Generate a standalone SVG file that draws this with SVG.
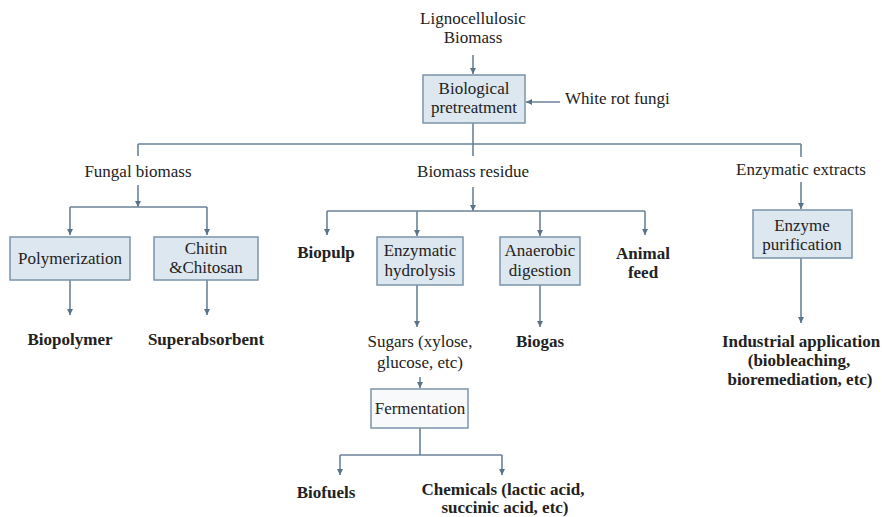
<svg xmlns="http://www.w3.org/2000/svg" width="882" height="517" viewBox="0 0 882 517">
<defs>
<marker id="ah" viewBox="0 0 6 6" refX="6" refY="3" markerWidth="6" markerHeight="6" markerUnits="userSpaceOnUse" orient="auto">
<path d="M0,0 L6,3 L0,6 Z" fill="#5b7389"/>
</marker>
<style>
text{font-family:'Liberation Serif','DejaVu Serif',serif}
.t{font-size:17px;fill:#222;text-anchor:middle}
.b{font-weight:bold}
.box{fill:#dde7ef;stroke:#7b94aa;stroke-width:1.5}
.wbox{fill:#f7f9fa;stroke:#7b94aa;stroke-width:1.5}
.ln{fill:none;stroke:#6b8399;stroke-width:1.6}
.ar{fill:none;stroke:#6b8399;stroke-width:1.6;marker-end:url(#ah)}
</style>
</defs>
<rect width="882" height="517" fill="#ffffff"/>
<g id="connectors">
<path class="ar" d="M473,55 V74"/>
<path class="ar" d="M560,102 H526"/>
<path class="ln" d="M473,123 V144 M138,144 H801 M138,144 V156 M473,144 V156 M801,144 V157"/>
<path class="ar" d="M138,185 V207"/>
<path class="ln" d="M70,207 H207"/>
<path class="ar" d="M70,207 V235"/>
<path class="ar" d="M207,207 V235"/>
<path class="ar" d="M70,280 V315"/>
<path class="ar" d="M207,280 V315"/>
<path class="ar" d="M473,187 V211"/>
<path class="ln" d="M327,211 H645"/>
<path class="ar" d="M327,211 V235"/>
<path class="ar" d="M417,211 V236"/>
<path class="ar" d="M540,211 V236"/>
<path class="ar" d="M645,211 V235"/>
<path class="ar" d="M417,285 V327"/>
<path class="ar" d="M540,285 V327"/>
<path class="ar" d="M420,377 V388"/>
<path class="ln" d="M420,428 V455 M340,455 H502"/>
<path class="ar" d="M340,455 V475"/>
<path class="ar" d="M502,455 V475"/>
<path class="ar" d="M801,182 V209"/>
<path class="ar" d="M801,258 V323"/>
</g>
<g font-family="Liberation Serif, DejaVu Serif, serif">
<g id="lignocellulosic-biomass">
<text class="t" x="473" y="24">Lignocellulosic</text>
<text class="t" x="473" y="43">Biomass</text>
</g>
<g id="biological-pretreatment">
<rect class="box" x="423" y="75" width="102" height="48"/>
<text class="t" x="474" y="94">Biological</text>
<text class="t" x="474" y="113">pretreatment</text>
</g>
<g id="white-rot-fungi">
<text class="t" x="565" y="104" style="text-anchor:start">White rot fungi</text>
</g>
<g id="fungal-biomass">
<text class="t" x="138" y="177">Fungal biomass</text>
</g>
<g id="biomass-residue">
<text class="t" x="473" y="177">Biomass residue</text>
</g>
<g id="enzymatic-extracts">
<text class="t" x="801" y="175">Enzymatic extracts</text>
</g>
<g id="polymerization">
<rect class="box" x="10" y="237" width="120" height="43"/>
<text class="t" x="70" y="264">Polymerization</text>
</g>
<g id="chitin-chitosan">
<rect class="box" x="154" y="237" width="104" height="43"/>
<text class="t" x="206" y="254">Chitin</text>
<text class="t" x="206" y="273">&amp;Chitosan</text>
</g>
<g id="biopolymer">
<text class="t b" x="70" y="345">Biopolymer</text>
</g>
<g id="superabsorbent">
<text class="t b" x="206" y="345">Superabsorbent</text>
</g>
<g id="biopulp">
<text class="t b" x="326" y="258">Biopulp</text>
</g>
<g id="enzymatic-hydrolysis">
<rect class="box" x="377" y="237" width="86" height="48"/>
<text class="t" x="420" y="256">Enzymatic</text>
<text class="t" x="420" y="276">hydrolysis</text>
</g>
<g id="anaerobic-digestion">
<rect class="box" x="500" y="237" width="80" height="48"/>
<text class="t" x="540" y="256">Anaerobic</text>
<text class="t" x="540" y="276">digestion</text>
</g>
<g id="animal-feed">
<text class="t b" x="643" y="259">Animal</text>
<text class="t b" x="643" y="278">feed</text>
</g>
<g id="enzyme-purification">
<rect class="box" x="753" y="210" width="99" height="48"/>
<text class="t" x="802" y="231">Enzyme</text>
<text class="t" x="802" y="250">purification</text>
</g>
<g id="sugars">
<text class="t" x="420" y="347">Sugars (xylose,</text>
<text class="t" x="420" y="368">glucose, etc)</text>
</g>
<g id="biogas">
<text class="t b" x="540" y="347">Biogas</text>
</g>
<g id="industrial-application">
<text class="t b" x="801" y="347">Industrial application</text>
<text class="t b" x="799" y="366">(biobleaching,</text>
<text class="t b" x="800" y="385">bioremediation, etc)</text>
</g>
<g id="fermentation">
<rect class="wbox" x="371" y="389" width="97" height="39"/>
<text class="t" x="420" y="414">Fermentation</text>
</g>
<g id="biofuels">
<text class="t b" x="326" y="498">Biofuels</text>
</g>
<g id="chemicals">
<text class="t b" x="503" y="495">Chemicals (lactic acid,</text>
<text class="t b" x="505" y="513">succinic acid, etc)</text>
</g>
</g>
</svg>
